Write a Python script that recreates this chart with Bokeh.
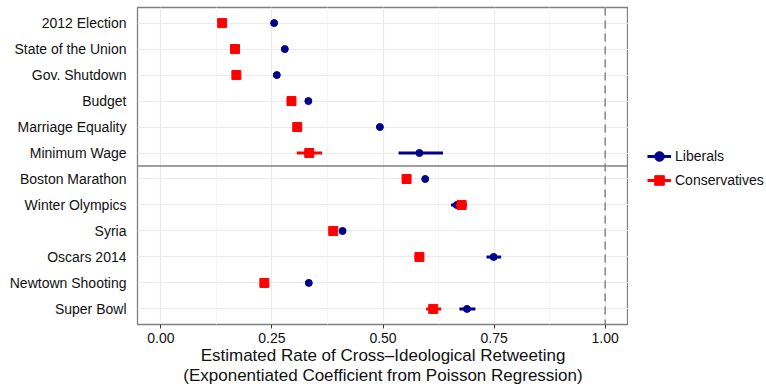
from bokeh.plotting import figure
from bokeh.layouts import row
from bokeh.models import (FactorRange, Range1d, Span, Legend, LegendItem,
                          ColumnDataSource, FixedTicker)
from bokeh.embed import file_html
from bokeh.resources import INLINE

events = ["2012 Election", "State of the Union", "Gov. Shutdown", "Budget",
          "Marriage Equality", "Minimum Wage", "Boston Marathon", "Winter Olympics",
          "Syria", "Oscars 2014", "Newtown Shooting", "Super Bowl"]

lib_est = [0.255, 0.279, 0.261, 0.332, 0.493, 0.582, 0.595, 0.666, 0.409, 0.749, 0.333, 0.689]
lib_lo = [0.251, 0.272, 0.256, 0.328, 0.487, 0.535, 0.591, 0.653, 0.405, 0.733, 0.329, 0.672]
lib_hi = [0.259, 0.286, 0.266, 0.336, 0.499, 0.635, 0.599, 0.676, 0.413, 0.766, 0.337, 0.708]

con_est = [0.138, 0.167, 0.170, 0.294, 0.307, 0.334, 0.553, 0.677, 0.388, 0.582, 0.233, 0.613]
con_lo = [0.134, 0.163, 0.166, 0.290, 0.303, 0.306, 0.549, 0.664, 0.384, 0.571, 0.229, 0.597]
con_hi = [0.142, 0.171, 0.174, 0.298, 0.311, 0.363, 0.557, 0.689, 0.392, 0.592, 0.237, 0.631]

x_ticks = [0.0, 0.25, 0.5, 0.75, 1.0]
x_tick_labels = ["0.00", "0.25", "0.50", "0.75", "1.00"]
x_minor = [0.125, 0.375, 0.625, 0.875]

series_names = ["Liberals", "Conservatives"]
FONT = "Liberation Sans"
LIB_COLOR = "#00008B"
CON_COLOR = "#FF0000"

lib_src = ColumnDataSource(dict(ev=events, est=lib_est, lo=lib_lo, hi=lib_hi))
con_src = ColumnDataSource(dict(ev=events, est=con_est, lo=con_lo, hi=con_hi))


def draw_series(fig):
    ls = fig.segment(x0="lo", y0="ev", x1="hi", y1="ev", source=lib_src,
                     line_color=LIB_COLOR, line_width=3)
    lp = fig.scatter(x="est", y="ev", source=lib_src, marker="circle", size=7,
                     fill_color=LIB_COLOR, line_color=LIB_COLOR)
    cs = fig.segment(x0="lo", y0="ev", x1="hi", y1="ev", source=con_src,
                     line_color=CON_COLOR, line_width=3)
    cp = fig.scatter(x="est", y="ev", source=con_src, marker="square", size=9,
                     fill_color=CON_COLOR, line_color=CON_COLOR)
    return ls, lp, cs, cp


p = figure(frame_width=491, frame_height=317,
           y_range=FactorRange(factors=list(reversed(events)), range_padding=1/60),
           x_range=Range1d(-0.0525, 1.0525),
           output_backend="svg", toolbar_location=None,
           min_border_left=137, min_border_top=7, min_border_right=0, min_border_bottom=0)

p.background_fill_color = "white"
p.border_fill_color = "white"
p.outline_line_color = "#7F7F7F"
p.outline_line_width = 1.3

# grids
p.xgrid.grid_line_color = "#EBEBEB"
p.xgrid.grid_line_width = 1.2
p.xgrid.minor_grid_line_color = "#F5F5F5"
p.xgrid.minor_grid_line_width = 1.0
p.ygrid.grid_line_color = "#EBEBEB"
p.ygrid.grid_line_width = 1.2

# reference lines
p.add_layout(Span(location=1.0, dimension="height", line_color="#8C8C8C",
                  line_width=1.6, line_dash="8 5"))
p.add_layout(Span(location=6, dimension="width", line_color="#7F7F7F", line_width=1.3))

draw_series(p)

# x axis
xa = p.xaxis[0]
xa.ticker = FixedTicker(ticks=x_ticks, minor_ticks=x_minor)
xa.major_label_overrides = {t: l for t, l in zip(x_ticks, x_tick_labels)}
xa.axis_line_color = None
xa.major_tick_in = 0
xa.major_tick_out = 4
xa.major_tick_line_color = "#333333"
xa.minor_tick_in = 0
xa.minor_tick_out = 0
xa.major_label_standoff = 4
xa.major_label_text_font = FONT
xa.major_label_text_font_size = "14px"
xa.major_label_text_color = "#111111"
xa.axis_label = ("Estimated Rate of Cross\u2013Ideological Retweeting\n"
                 "(Exponentiated Coefficient from Poisson Regression)")
xa.axis_label_text_font = FONT
xa.axis_label_text_font_size = "17px"
xa.axis_label_text_font_style = "normal"
xa.axis_label_text_color = "#111111"
xa.axis_label_text_line_height = 1.1
xa.axis_label_standoff = 0

# y axis
ya = p.yaxis[0]
ya.axis_line_color = None
ya.major_tick_in = 0
ya.major_tick_out = 0
ya.major_label_standoff = 11
ya.major_label_text_font = FONT
ya.major_label_text_font_size = "14px"
ya.major_label_text_color = "#111111"

# legend panel: a separate figure on the right whose range hides the data
lf = figure(width=138, height=384, x_range=Range1d(5, 6),
            y_range=FactorRange(factors=list(reversed(events))),
            output_backend="svg", toolbar_location=None,
            x_axis_location=None, y_axis_location=None, min_border=0)
lf.outline_line_color = None
lf.xgrid.visible = False
lf.ygrid.visible = False
lf.background_fill_color = "white"
lf.border_fill_color = "white"

l_seg, l_pt, c_seg, c_pt = draw_series(lf)

legend = Legend(items=[LegendItem(label=series_names[0], renderers=[l_seg, l_pt]),
                       LegendItem(label=series_names[1], renderers=[c_seg, c_pt])],
                location=(19, 128), margin=0, padding=0, spacing=0,
                glyph_width=24, glyph_height=24, label_standoff=4,
                label_text_font=FONT, label_text_font_size="14px",
                label_text_color="#111111",
                border_line_color=None, background_fill_alpha=0)
lf.add_layout(legend)

layout = row(p, lf, spacing=0)
open("out.html", "w").write(file_html(layout, INLINE))
